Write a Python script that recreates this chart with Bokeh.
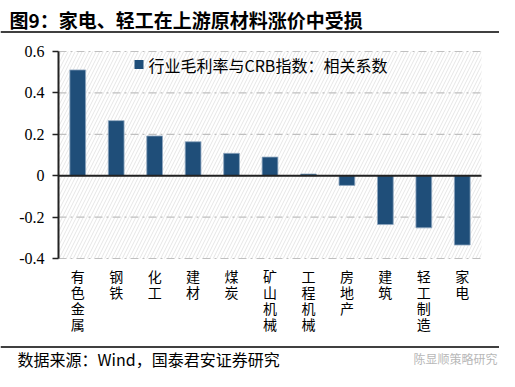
from bokeh.plotting import figure
from bokeh.models import Range1d, FixedTicker, CustomJSTickFormatter, BoxAnnotation, ColumnDataSource
from bokeh.core.properties import value
from bokeh.embed import file_html
from bokeh.resources import INLINE

# ---- data ----
categories = ["有色金属", "钢铁", "化工", "建材", "煤炭", "矿山机械",
              "工程机械", "房地产", "建筑", "轻工制造", "家电"]
values = [0.511, 0.266, 0.192, 0.164, 0.108, 0.090, 0.008, -0.047, -0.236, -0.252, -0.335]
y_ticks = [-0.4, -0.2, 0.0, 0.2, 0.4, 0.6]
title_text = "图9：家电、轻工在上游原材料涨价中受损"
legend_text = "行业毛利率与CRB指数：相关系数"
source_text = "数据来源：Wind，国泰君安证券研究"
watermark_text = "陈显顺策略研究"

CJK = "Noto Sans CJK SC"
SERIF = "Times New Roman"
BAR = "#1f4e79"
W, H = 499, 371
NC = len(categories)
Y_MIN, Y_MAX = y_ticks[0], y_ticks[-1]
# chart area in canvas pixels
PL, PR, PT, PB = 58, 481, 51, 258


def dx(px):
    return (px - PL) / (PR - PL) * NC


def dy(py):
    return Y_MAX - (py - PT) / (PB - PT) * (Y_MAX - Y_MIN)


p = figure(width=W, height=H, x_range=Range1d(dx(0), dx(W)), y_range=Range1d(dy(H), dy(0)),
           output_backend="svg", toolbar_location=None, x_axis_location=None,
           min_border=0)
p.outline_line_color = None
p.grid.visible = False

# hatched background of the chart area
p.add_layout(BoxAnnotation(left=0, right=NC, top=Y_MAX, bottom=Y_MIN, fill_color=None,
                           line_color=None, hatch_pattern="/", hatch_color="#e6e6e6",
                           hatch_scale=7, hatch_weight=1, level="underlay"))

# grid lines (dash-dot)
p.segment(x0=[0] * len(y_ticks), x1=[NC] * len(y_ticks), y0=y_ticks, y1=y_ticks,
          line_color="#c0c0c0", line_dash="8 4 2 4", line_width=1.2)

xs = [i + 0.5 for i in range(NC)]
src = ColumnDataSource(dict(x=xs, top=values))
p.vbar(x="x", top="top", bottom=0, width=0.41, source=src, fill_color=BAR,
       line_color="#8fa7c0", line_width=0.8)

# zero line
p.segment(x0=[0], x1=[NC], y0=[0], y1=[0], line_color="#222222", line_width=2)

# y axis fixed at the chart's left edge
ya = p.yaxis[0]
ya.fixed_location = 0
ya.bounds = (Y_MIN, Y_MAX)
ya.ticker = FixedTicker(ticks=y_ticks)
ya.formatter = CustomJSTickFormatter(code="var s = tick.toFixed(1); return s == '0.0' || s == '-0.0' ? '0' : s;")
ya.axis_line_color = "#222222"
ya.axis_line_width = 2
ya.major_tick_out = 6
ya.major_tick_in = 0
ya.major_tick_line_color = "#222222"
ya.major_tick_line_width = 1.5
ya.minor_tick_line_color = None
ya.major_label_text_font = SERIF
ya.major_label_text_font_size = "16px"
ya.major_label_text_color = "#000000"
ya.major_label_standoff = 8

# vertical category labels (one character per line)
lx, ly, lt = [], [], []
for i, c in enumerate(categories):
    for k, ch in enumerate(c):
        lx.append(xs[i])
        ly.append(dy(275 + k * 16.3))
        lt.append(ch)
p.text(x=lx, y=ly, text=lt, text_font=value(CJK), text_font_size="14px",
       text_align="center", text_baseline="middle", text_color="#000000")

# legend
p.scatter(x=[dx(138.5)], y=[dy(64)], marker="square", size=9, fill_color=BAR, line_color=None)
p.text(x=[dx(148)], y=[dy(64)], text=[legend_text], text_font=value(CJK), text_font_size="16px",
       text_baseline="middle", text_align="left", text_color="#000000")

# title and rule
p.text(x=[dx(9)], y=[dy(19)], text=[title_text], text_font=value(CJK), text_font_size="19px",
       text_font_style="bold", text_baseline="middle", text_align="left", text_color="#000000")
p.segment(x0=[dx(0)], x1=[dx(W)], y0=[dy(31.5)], y1=[dy(31.5)], line_color="#000000", line_width=1.5)

# footer rule, source and watermark
p.segment(x0=[dx(0)], x1=[dx(W)], y0=[dy(346.5)], y1=[dy(346.5)], line_color="#000000", line_width=1.5)
p.text(x=[dx(17)], y=[dy(358)], text=[source_text], text_font=value(CJK), text_font_size="16px",
       text_baseline="middle", text_align="left", text_color="#000000")
p.text(x=[dx(413)], y=[dy(358)], text=[watermark_text], text_font=value(CJK), text_font_size="12px",
       text_baseline="middle", text_align="left", text_color="#b8b8b8")

open("out.html", "w").write(file_html(p, INLINE))
